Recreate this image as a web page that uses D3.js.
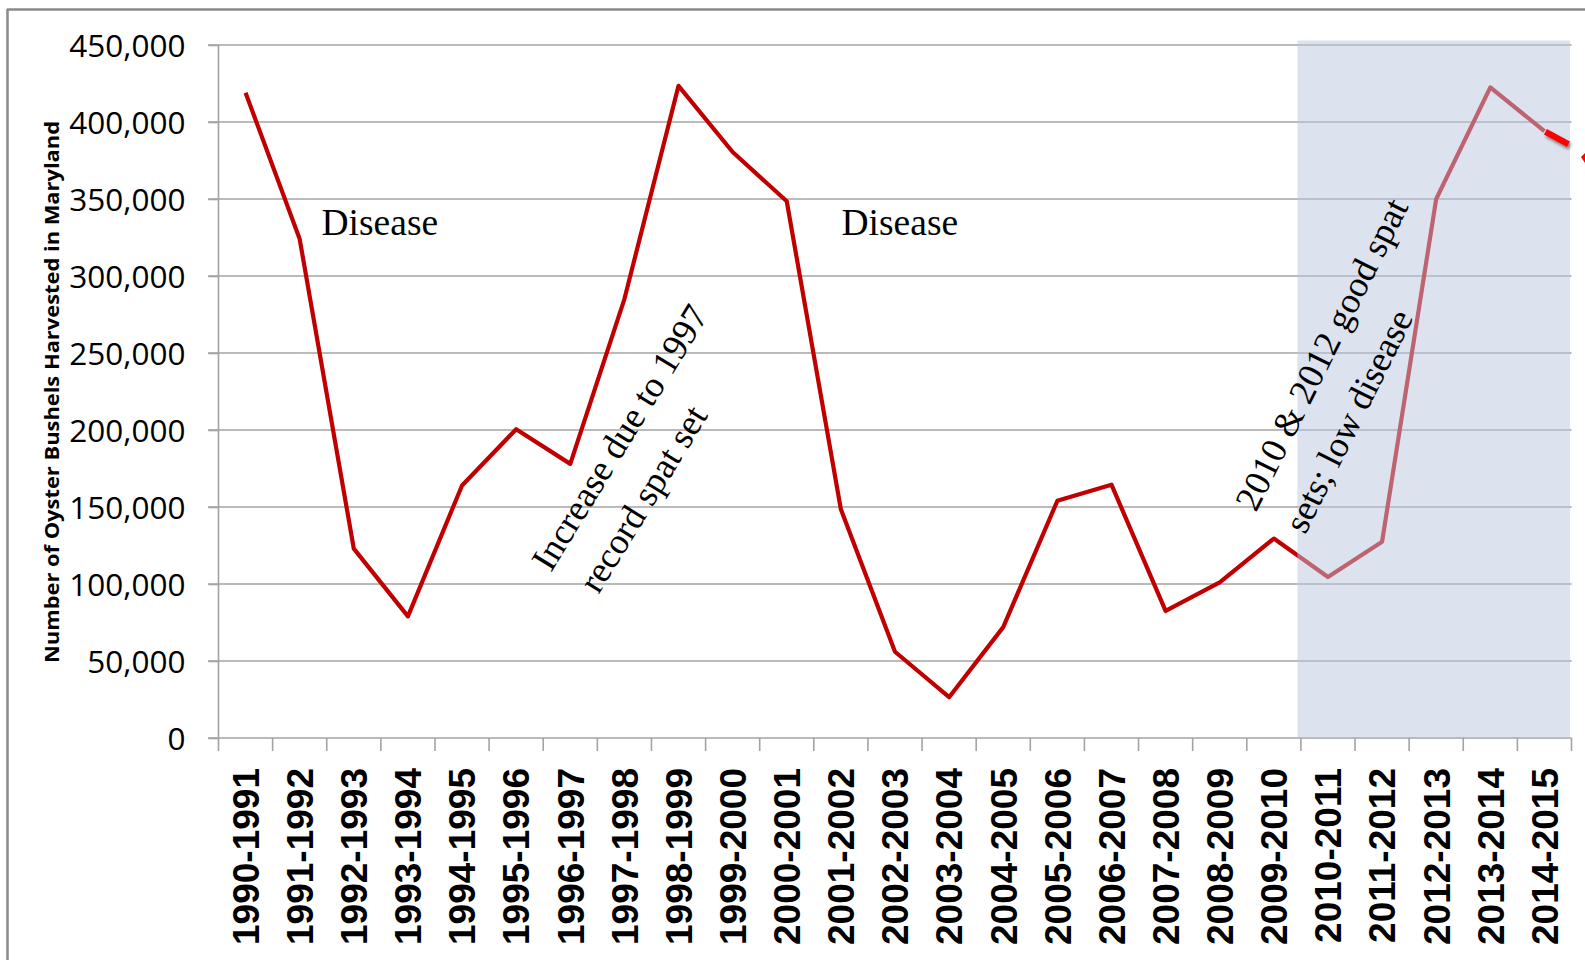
<!DOCTYPE html>
<html><head><meta charset="utf-8">
<script src="https://cdn.jsdelivr.net/npm/d3@7"></script>
<style>body{margin:0;background:#fff;overflow:hidden;} svg{display:block;}</style>
</head><body><svg id="c" width="1585" height="960"></svg>
<script>
const seasons = ["1990-1991","1991-1992","1992-1993","1993-1994","1994-1995","1995-1996","1996-1997","1997-1998","1998-1999","1999-2000","2000-2001","2001-2002","2002-2003","2003-2004","2004-2005","2005-2006","2006-2007","2007-2008","2008-2009","2009-2010","2010-2011","2011-2012","2012-2013","2013-2014","2014-2015"];
const bushels = [419000,324000,123000,79000,164000,200500,178000,285000,423500,380500,348500,148500,56000,26500,72000,154000,164500,82500,101000,129500,104500,127500,350000,422500,394000];
const yTicks = [0,50000,100000,150000,200000,250000,300000,350000,400000,450000];
const yTitle = "Number of Oyster Bushels Harvested in Maryland";
const diseaseNote = "Disease";
const spatNote1 = ["Increase due to 1997","record spat set"];
const spatNote2 = ["2010 & 2012 good spat","sets; low disease"];
const shadeFrom = "2010-2011";

const svg = d3.select("#c");
const x = d3.scaleBand().domain(seasons).range([218.5,1571.5]).padding(0);
const y = d3.scaleLinear().domain([0,450000]).range([738,45]);
const gridCol = "#a3a3a3";

// outer frame
svg.append("line").attr("x1",7).attr("x2",1585).attr("y1",9.5).attr("y2",9.5).attr("stroke","#8a8a8a").attr("stroke-width",2.5);
svg.append("line").attr("x1",7.5).attr("x2",7.5).attr("y1",9).attr("y2",960).attr("stroke","#8a8a8a").attr("stroke-width",2.5);

// gridlines
svg.append("g").selectAll("line").data(yTicks.filter(d=>d>0)).join("line")
  .attr("x1",208).attr("x2",1571.5).attr("y1",d=>y(d)).attr("y2",d=>y(d))
  .attr("stroke",gridCol).attr("stroke-width",1.6);

// y axis
const yAxis = d3.axisLeft(y).tickValues(yTicks).tickSize(10).tickPadding(23).tickFormat(d3.format(","));
const gy = svg.append("g").attr("transform","translate(218.5,0)").call(yAxis);
gy.select(".domain").attr("stroke",gridCol).attr("stroke-width",1.6).attr("d","M0,45V738");
gy.selectAll(".tick line").attr("stroke",gridCol).attr("stroke-width",1.6);
gy.selectAll(".tick text").attr("font-family","'Open Sans', sans-serif").attr("font-size",31.5).attr("fill","#000").attr("dy","0.36em");

// x axis baseline + boundary ticks
const bounds = seasons.map(s=>x(s)).concat([x.range()[1]]);
svg.append("line").attr("x1",208).attr("x2",1571.5).attr("y1",y(0)).attr("y2",y(0)).attr("stroke",gridCol).attr("stroke-width",1.6);
svg.append("g").selectAll("line").data(bounds).join("line")
  .attr("x1",d=>d).attr("x2",d=>d).attr("y1",y(0)).attr("y2",y(0)+13)
  .attr("stroke",gridCol).attr("stroke-width",1.6);

// x labels
const xAxis = d3.axisBottom(x).tickSize(0).tickPadding(0);
const gx = svg.append("g").attr("transform","translate(0,768)").call(xAxis);
gx.select(".domain").remove();
gx.selectAll(".tick text")
  .attr("font-family","'Liberation Sans', Arial, sans-serif").attr("font-weight","bold").attr("font-size",37).attr("fill","#000")
  .attr("text-anchor","end").attr("transform","rotate(-90)").attr("x",0).attr("y",0).attr("dy","0.36em");

// data line
const line = d3.line().x(d=>x(d.s)+x.bandwidth()/2).y(d=>y(d.v));
const pts = seasons.map((s,i)=>({s, v:bushels[i]}));
svg.append("path").datum(pts).attr("d",line).attr("fill","none").attr("stroke","#c00000").attr("stroke-width",4.2).attr("stroke-linejoin","round");

// shaded overlay
svg.append("rect").attr("x",x(shadeFrom)-3.5).attr("y",y(450000)-4.5)
  .attr("width",1570-(x(shadeFrom)-3.5)).attr("height",y(0)-1-(y(450000)-4.5))
  .attr("fill","rgb(185,199,223)").attr("opacity",0.5);

// red arrow fragment with shadow
const defs = svg.append("defs");
const f = defs.append("filter").attr("id","sh").attr("x","-50%").attr("y","-50%").attr("width","200%").attr("height","200%");
f.append("feDropShadow").attr("dx",1.5).attr("dy",2.5).attr("stdDeviation",1.5).attr("flood-color","#000").attr("flood-opacity",0.45);
const lastX = x(seasons[24])+x.bandwidth()/2, lastY = y(bushels[24]);
svg.append("line").attr("x1",lastX+1).attr("y1",lastY+0.5).attr("x2",lastX+24).attr("y2",lastY+13)
  .attr("stroke","#ff0000").attr("stroke-width",6).attr("filter","url(#sh)");
svg.append("path").attr("d","M1581,157 L1585,153 L1585,163 Z").attr("fill","#ff0000");

// annotations
const serif = "'Liberation Serif','Times New Roman',serif";
const fs = 37.5, fsRot = 36.5;
svg.append("text").attr("x",321.5).attr("y",234.5).attr("font-family",serif).attr("font-size",fs).attr("fill","#000").text(diseaseNote);
svg.append("text").attr("x",841.5).attr("y",235).attr("font-family",serif).attr("font-size",fs).attr("fill","#000").text(diseaseNote);

function rotNote(lines, sx, sy, ang, gap, indent){
  const g = svg.append("g").attr("transform",`translate(${sx},${sy}) rotate(${-ang})`);
  g.selectAll("text").data(lines).join("text")
    .attr("x",(d,i)=>i*indent).attr("y",(d,i)=>i*gap)
    .attr("font-family",serif).attr("font-size",fsRot).attr("fill","#000").text(d=>d);
}
rotNote(spatNote1, 551, 573, 58.5, 52, 6);
rotNote(spatNote2, 1256, 513, 63.5, 54, 2);

// y title
svg.append("text").attr("transform","translate(59,392) rotate(-90)").attr("text-anchor","middle")
  .attr("font-family","'Open Sans', sans-serif").attr("font-weight","bold").attr("font-size",19).attr("fill","#000")
  .attr("textLength",542).attr("lengthAdjust","spacingAndGlyphs").text(yTitle);
</script></body></html>
